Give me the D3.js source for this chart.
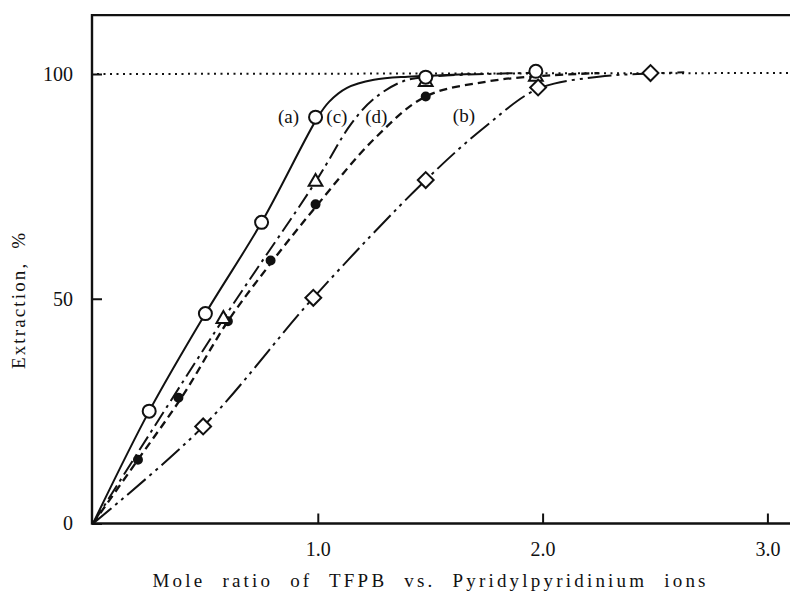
<!DOCTYPE html>
<html><head><meta charset="utf-8">
<script src="https://cdn.jsdelivr.net/npm/d3@7"></script>
<style>
html,body{margin:0;padding:0;background:#fff;}
svg text{font-family:"Liberation Serif","Times New Roman",serif;fill:#111;}
</style></head>
<body><svg id="c" width="790" height="593"></svg>
<script>
// ---- data ----
const xTicks = [1.0, 2.0, 3.0];
const yTicks = [0, 50, 100];
const xLabel = "Mole ratio of TFPB vs. Pyridylpyridinium ions";
const yLabel = "Extraction, %";

// measured points (markers)
const ptsA = [[0.25,25],[0.5,46.7],[0.75,67],[0.99,90.4],[1.48,99.3],[1.97,100.6]]; // circles
const ptsB = [[0.49,21.6],[0.98,50.2],[1.48,76.4],[1.98,97],[2.48,100.2]];           // diamonds
const ptsC = [[0.58,45.5],[0.99,76],[1.48,98.2],[1.97,99.4]];                        // triangles
const ptsD = [[0.2,14.2],[0.38,28],[0.6,45],[0.79,58.5],[0.99,71],[1.48,95]];         // filled dots

// fitted curves (knots)
const curveA = [[0,0],[0.25,25],[0.5,46.7],[0.75,67],[1.0,90.4],[1.05,93.8],[1.13,96.9],[1.25,98.7],[1.4,99.4],[1.55,99.7],[1.68,100]];
const curveC = [[0,0],[0.58,45.5],[0.99,76],[1.15,89],[1.25,94.5],[1.38,98.4],[1.5,99.4],[1.75,100],[2.0,100.3]];
const curveD = [[0,0],[0.2,14.2],[0.4,28.5],[0.6,45],[0.8,58.5],[1.0,71],[1.25,85.5],[1.48,95],[1.75,98.3],[2.0,99.6],[2.25,100.2]];
const curveB = [[0,0],[0.49,21.6],[0.98,50.2],[1.48,76.4],[1.75,88.5],[1.98,96.7],[2.25,99.4],[2.48,100.1],[2.63,100.4]];

const seriesLabels = [["(a)",0.87,89],["(c)",1.085,89],["(d)",1.26,89],["(b)",1.65,89.4]];
const refLine = 100;

// ---- drawing ----
const svg = d3.select("#c");
const x = d3.scaleLinear().domain([0,3]).range([93,767.4]);
const y = d3.scaleLinear().domain([0,100]).range([523.5,74]);
const xMax = 3.3, yMax = 113.1;

// frame
const frame = svg.append("g").attr("stroke","#111").attr("stroke-width",2.4).attr("fill","none");
frame.append("path").attr("d",`M${x(xMax)},${y(yMax)}H${x(0)-1}V${y(0)}H${x(xMax)}`);

// axes
const xAxis = d3.axisBottom(x).tickValues(xTicks).tickSize(-10).tickPadding(18).tickFormat(d3.format(".1f"));
const gx = svg.append("g").attr("transform",`translate(0,${y(0)})`).call(xAxis);
gx.select(".domain").remove();
gx.selectAll("line").attr("stroke","#111").attr("stroke-width",2);
gx.selectAll("text").attr("font-size",20).attr("fill","#111").attr("font-family","Liberation Serif");

const yAxis = d3.axisLeft(y).tickValues(yTicks).tickSize(-10).tickPadding(19);
const gy = svg.append("g").attr("transform",`translate(${x(0)-1},0)`).call(yAxis);
gy.select(".domain").remove();
gy.selectAll("line").attr("stroke","#111").attr("stroke-width",2);
gy.selectAll("text").attr("font-size",20).attr("fill","#111").attr("font-family","Liberation Serif");

// axis titles
svg.append("text").attr("x",429).attr("y",587).attr("text-anchor","middle")
  .attr("font-size",19).style("word-spacing","9px")
  .attr("textLength",553).attr("lengthAdjust","spacing").text(xLabel);
svg.append("text").attr("transform","translate(25,301) rotate(-90)").attr("text-anchor","middle")
  .attr("font-size",19).style("word-spacing","6px")
  .attr("textLength",136).attr("lengthAdjust","spacing").text(yLabel);

// reference dotted line
svg.append("line").attr("x1",x(0)+4).attr("x2",800).attr("y1",y(refLine)).attr("y2",y(refLine)-1)
  .attr("stroke","#111").attr("stroke-width",2).attr("stroke-dasharray","2,4.5");

const line = d3.line().x(d=>x(d[0])).y(d=>y(d[1])).curve(d3.curveCatmullRom.alpha(0.5));
const lines = svg.append("g").attr("fill","none").attr("stroke","#111").attr("stroke-width",2);
lines.append("path").attr("d",line(curveA));
lines.append("path").attr("d",line(curveC)).attr("stroke-dasharray","16,5,3,5");
lines.append("path").attr("d",line(curveD)).attr("stroke-dasharray","8,5").attr("stroke-width",2.3);
lines.append("path").attr("d",line(curveB)).attr("stroke-dasharray","24,5,3,5,3,5");

// markers
const mk = svg.append("g").attr("stroke","#111").attr("stroke-width",2);
mk.selectAll(".dot").data(ptsD).join("circle").attr("cx",d=>x(d[0])).attr("cy",d=>y(d[1])).attr("r",4).attr("fill","#111");
mk.selectAll(".tri").data(ptsC).join("path")
  .attr("transform",d=>`translate(${x(d[0])},${y(d[1])})`)
  .attr("d",d3.symbol(d3.symbolTriangle2,135)()).attr("fill","#fff");
mk.selectAll(".dia").data(ptsB).join("path")
  .attr("transform",d=>`translate(${x(d[0])},${y(d[1])}) rotate(45)`)
  .attr("d",d3.symbol(d3.symbolSquare2,160)()).attr("fill","#fff");
mk.selectAll(".cir").data(ptsA).join("circle").attr("cx",d=>x(d[0])).attr("cy",d=>y(d[1])).attr("r",6.5).attr("fill","#fff");

// series labels
svg.append("g").selectAll("text").data(seriesLabels).join("text")
  .attr("x",d=>x(d[1])).attr("y",d=>y(d[2])).attr("text-anchor","middle").attr("font-size",19).text(d=>d[0]);
</script></body></html>
